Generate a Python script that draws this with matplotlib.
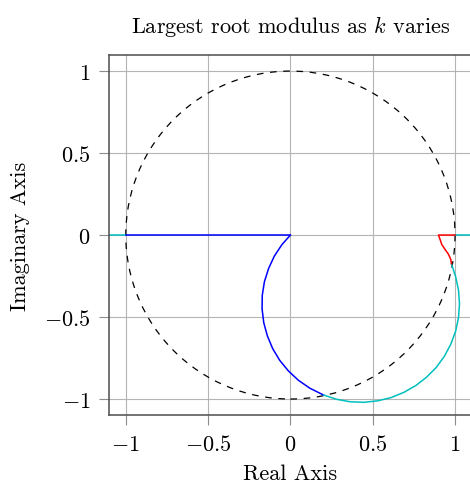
import numpy as np
import matplotlib
matplotlib.use('Agg')
import matplotlib.pyplot as plt
from matplotlib.patches import Circle

plt.rcParams['font.family'] = 'serif'
plt.rcParams['font.serif'] = ['cmr10']
plt.rcParams['mathtext.fontset'] = 'cm'
plt.rcParams['axes.formatter.use_mathtext'] = True
plt.rcParams['font.size'] = 16

# values
# real-axis pieces
blue_axis_x = [-1.0, 0.0]
blue_axis_y = [0.0, 0.0]
cyan_left_x = [-1.2, -1.0]
cyan_left_y = [0.0, 0.0]
cyan_right_x = [1.0, 1.2]
cyan_right_y = [0.0, 0.0]

# blue arc leaving the origin
blue_x = [0.0, -0.052, -0.098, -0.133, -0.158, -0.171, -0.172, -0.162, -0.140,
          -0.108, -0.065, -0.012, 0.049, 0.118, 0.202]
blue_y = [0.0, -0.059, -0.129, -0.205, -0.285, -0.368, -0.451, -0.534, -0.615,
          -0.692, -0.764, -0.829, -0.886, -0.934, -0.976]

# cyan arc
cyan_x = [0.202, 0.282, 0.364, 0.448, 0.531, 0.612, 0.690, 0.763, 0.828, 0.887,
          0.936, 0.975, 1.004, 1.021, 1.027, 1.021, 1.004, 0.978]
cyan_y = [-0.976, -1.002, -1.017, -1.020, -1.011, -0.991, -0.959, -0.917, -0.866,
          -0.806, -0.738, -0.664, -0.585, -0.504, -0.420, -0.336, -0.255, -0.175]

# red piece near z = 1
red_x = [1.0, 0.899, 0.909, 0.919, 0.939, 0.960, 0.974, 0.978]
red_y = [0.0, 0.0, -0.026, -0.057, -0.087, -0.117, -0.148, -0.175]

ticks = [-1, -0.5, 0, 0.5, 1]
tick_labels = [r'$-1$', r'$-0.5$', r'$0$', r'$0.5$', r'$1$']

fig = plt.figure(figsize=(4.70, 4.85), dpi=100)
ax = fig.add_axes([0.2326, 0.1414, 0.7706, 0.7438])

ax.grid(True, color='#b4b4b4', lw=0.8)
ax.set_axisbelow(True)

ax.add_patch(Circle((0, 0), 1, fill=False, ec='k', lw=0.9, ls=(0, (5.3, 5.3))))

ax.plot(cyan_left_x, cyan_left_y, color='#00bfbf', lw=1.1)
ax.plot(cyan_right_x, cyan_right_y, color='#00bfbf', lw=1.1)
ax.plot(blue_axis_x, blue_axis_y, color='#0000ff', lw=1.1)
ax.plot(blue_x, blue_y, color='#0000ff', lw=1.1)
ax.plot(cyan_x, cyan_y, color='#00bfbf', lw=1.1)
ax.plot(red_x, red_y, color='#ff0000', lw=1.1)

ax.set_xlim(-1.1, 1.1)
ax.set_ylim(-1.1, 1.1)
ax.set_xticks(ticks)
ax.set_xticklabels(tick_labels)
ax.set_yticks(ticks)
ax.set_yticklabels(tick_labels)
ax.tick_params(direction='out', length=7, width=0.8, color='#8c8c8c', pad=6.4)
for s in ax.spines.values():
    s.set_color('#4d4d4d')
    s.set_linewidth(1.1)

ax.set_title('Largest root modulus as $k$ varies', fontsize=16, pad=16)
ax.set_xlabel('Real Axis', labelpad=6.5)
ax.set_ylabel('Imaginary Axis', labelpad=10.5)

fig.savefig('out.png', dpi=100)
